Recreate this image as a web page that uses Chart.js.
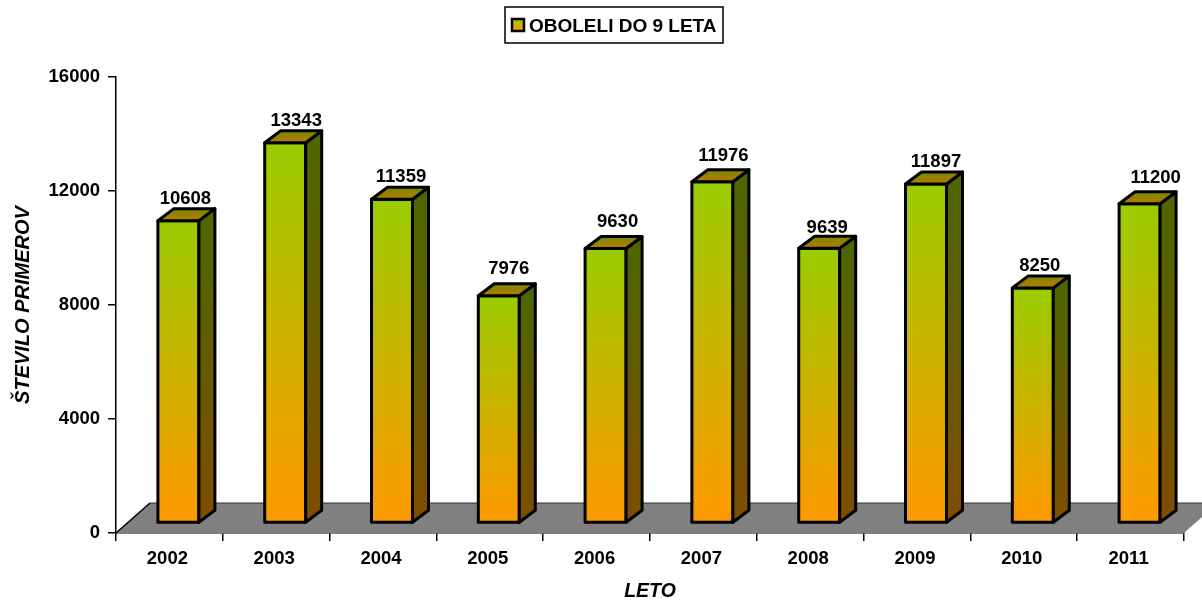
<!DOCTYPE html>
<html>
<head>
<meta charset="utf-8">
<title>Oboleli do 9 leta</title>
<script src="https://cdn.jsdelivr.net/npm/chart.js@4/dist/chart.umd.min.js"></script>
<style>
  html, body { margin: 0; padding: 0; background: #fff; }
  canvas { display: block; }
</style>
</head>
<body>
<canvas id="chart" width="1202" height="602"></canvas>
<script>
const years = ['2002', '2003', '2004', '2005', '2006', '2007', '2008', '2009', '2010', '2011'];
const cases = [10608, 13343, 11359, 7976, 9630, 11976, 9639, 11897, 8250, 11200];
const yTicks = [0, 4000, 8000, 12000, 16000];
const seriesName = 'OBOLELI DO 9 LETA';

const FONT = '"Liberation Sans", Arial, sans-serif';
const TOP_GAP = 31;                 // room between legend and plot
const SHIFT_X = 9, SHIFT_Y = -10;   // bars stand inside the floor
const DEPTH_X = 16, DEPTH_Y = 12;   // bar depth
const FLOOR_X = 34, FLOOR_Y = 30;   // floor depth
// the value labels were moved by hand in the original, one nudge per label
const LABEL_NUDGE = [[0, -1], [4, -1], [2, -1], [3, -6], [5, -6], [4, -5], [1, 1], [3, -1], [0, -1], [9, -5]];

function greenToOrange(ctx, y0, y1) {
  const g = ctx.createLinearGradient(0, y0, 0, y1);
  g.addColorStop(0, '#99cc00');
  g.addColorStop(1, '#ff9900');
  return g;
}

function barGradient(c) {
  const chart = c.chart;
  if (!chart.chartArea || !c.parsed) return '#99cc00';
  const y = chart.scales.y;
  return greenToOrange(chart.ctx, y.getPixelForValue(c.parsed.y), y.getPixelForValue(0));
}

function polygon(ctx, pts, fill) {
  ctx.beginPath();
  pts.forEach((p, i) => i ? ctx.lineTo(p[0], p[1]) : ctx.moveTo(p[0], p[1]));
  ctx.closePath();
  ctx.fillStyle = fill;
  ctx.fill();
}

const floorAndBars = {
  id: 'floorAndBars',
  afterLayout(chart) {
    // legend sits high and right of the page centre in the reference
    chart.legend.left += 20;
    chart.legend.right += 20;
    chart.legend.top -= TOP_GAP;
    chart.legend.bottom -= TOP_GAP;
  },
  beforeDatasetsDraw(chart) {
    const ctx = chart.ctx, a = chart.chartArea;
    polygon(ctx, [[a.left, a.bottom], [a.right, a.bottom], [a.right + FLOOR_X, a.bottom - FLOOR_Y], [a.left + FLOOR_X, a.bottom - FLOOR_Y]], '#808080');
    ctx.strokeStyle = '#000';
    ctx.lineWidth = 1.5;
    ctx.beginPath();
    ctx.moveTo(a.left, a.bottom);
    ctx.lineTo(a.left + FLOOR_X, a.bottom - FLOOR_Y);
    ctx.stroke();
    ctx.strokeStyle = '#333';
    ctx.lineWidth = 1;
    ctx.beginPath();
    ctx.moveTo(a.left + FLOOR_X, a.bottom - FLOOR_Y);
    ctx.lineTo(a.right + FLOOR_X, a.bottom - FLOOR_Y);
    ctx.stroke();
  },
  beforeDatasetDraw(chart) {
    chart.ctx.save();
    chart.ctx.translate(SHIFT_X, SHIFT_Y);
  },
  afterDatasetDraw(chart, args) {
    const ctx = chart.ctx;
    args.meta.data.forEach((bar) => {
      const l = bar.x - bar.width / 2, r = bar.x + bar.width / 2;
      const side = ctx.createLinearGradient(0, bar.y, 0, bar.base);
      side.addColorStop(0, '#4d6600');
      side.addColorStop(1, '#804d00');
      const top = ctx.createLinearGradient(0, bar.y, 0, bar.y - DEPTH_Y);
      top.addColorStop(0, '#b37a00');
      top.addColorStop(1, '#7a8a00');
      ctx.strokeStyle = '#000';
      ctx.lineWidth = 3;
      ctx.lineJoin = 'round';
      ctx.strokeRect(l, bar.y, r - l, bar.base - bar.y);
      polygon(ctx, [[r, bar.y], [r + DEPTH_X, bar.y - DEPTH_Y], [r + DEPTH_X, bar.base - DEPTH_Y], [r, bar.base]], side);
      ctx.stroke();
      polygon(ctx, [[l, bar.y], [l + DEPTH_X, bar.y - DEPTH_Y], [r + DEPTH_X, bar.y - DEPTH_Y], [r, bar.y]], top);
      ctx.stroke();
    });
    ctx.restore();
  },
  afterDraw(chart) {
    const ctx = chart.ctx;
    const meta = chart.getDatasetMeta(0);
    ctx.save();
    ctx.font = 'bold 18.5px ' + FONT;
    ctx.fillStyle = '#000';
    ctx.textAlign = 'center';
    ctx.textBaseline = 'alphabetic';
    meta.data.forEach((bar, i) => {
      const nudge = LABEL_NUDGE[i];
      ctx.fillText(cases[i], bar.x + SHIFT_X + 7 + nudge[0], bar.y + SHIFT_Y - DEPTH_Y - 4 + nudge[1]);
    });
    // frame and swatch of the legend
    ctx.strokeStyle = '#000';
    ctx.lineWidth = 1.5;
    ctx.strokeRect(505, 7, 218, 36);
    ctx.fillStyle = greenToOrange(ctx, 19, 31);
    ctx.lineWidth = 2.5;
    ctx.fillRect(512, 19, 12, 12);
    ctx.strokeRect(512, 19, 12, 12);
    ctx.restore();
  }
};

new Chart(document.getElementById('chart'), {
  type: 'bar',
  data: {
    labels: years,
    datasets: [{
      label: seriesName,
      data: cases,
      backgroundColor: barGradient,
      borderWidth: 0,
      barThickness: 41,
      clip: false
    }]
  },
  plugins: [floorAndBars],
  options: {
    responsive: false,
    animation: false,
    layout: { padding: { top: TOP_GAP, left: 0, right: 18, bottom: 0 } },
    plugins: {
      tooltip: { enabled: false },
      legend: {
        position: 'top',
        labels: {
          color: '#000',
          font: { family: FONT, size: 19, weight: 'bold' },
          boxWidth: 12,
          boxHeight: 12,
          padding: 17,
          generateLabels() {
            return [{ text: seriesName, fillStyle: 'rgba(0,0,0,0)', strokeStyle: 'rgba(0,0,0,0)', lineWidth: 0, datasetIndex: 0 }];
          }
        }
      }
    },
    scales: {
      x: {
        afterFit(s) { s.height = 69; },
        grid: { drawOnChartArea: false, color: '#000', tickLength: 8, lineWidth: 1.5 },
        border: { color: '#000', width: 1.5 },
        ticks: { color: '#000', font: { family: FONT, size: 18.5, weight: 'bold' }, padding: 7, maxRotation: 0, labelOffset: -2 },
        title: { display: true, text: 'LETO', color: '#000', font: { family: FONT, size: 19.5, weight: 'bold', style: 'italic', lineHeight: 1 }, padding: { top: 6, bottom: 1 } }
      },
      y: {
        min: 0,
        max: 16000,
        afterFit(s) { s.width = 116; },
        afterBuildTicks(s) { s.ticks = yTicks.map(v => ({ value: v })); },
        grid: { drawOnChartArea: false, color: '#000', tickLength: 8, lineWidth: 1.5 },
        border: { color: '#000', width: 1.5 },
        ticks: { color: '#000', font: { family: FONT, size: 18.5, weight: 'bold' }, padding: 8, callback: (v) => String(v) },
        title: { display: true, text: 'ŠTEVILO PRIMEROV', color: '#000', font: { family: FONT, size: 20, weight: 'bold', style: 'italic' }, padding: { top: 11, bottom: 0 } }
      }
    }
  }
});
</script>
</body>
</html>
